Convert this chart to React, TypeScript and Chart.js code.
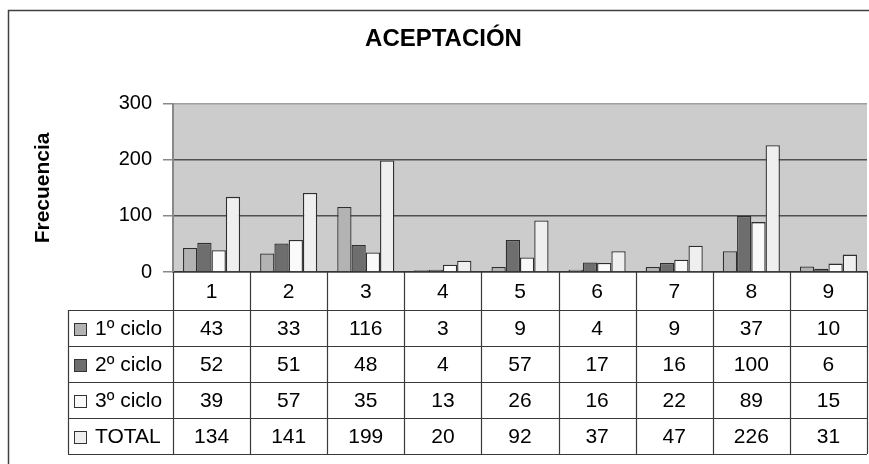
import React, { useEffect, useRef } from "react";
import { Chart, registerables } from "chart.js";

Chart.register(...registerables);

const categories = ["1", "2", "3", "4", "5", "6", "7", "8", "9"];
const seriesNames = ["1º ciclo", "2º ciclo", "3º ciclo", "TOTAL"];
const ciclo1 = [43, 33, 116, 3, 9, 4, 9, 37, 10];
const ciclo2 = [52, 51, 48, 4, 57, 17, 16, 100, 6];
const ciclo3 = [39, 57, 35, 13, 26, 16, 22, 89, 15];
const total = [134, 141, 199, 20, 92, 37, 47, 226, 31];
const yTicks = [0, 100, 200, 300];

const seriesColors = ["#b3b3b3", "#6e6e6e", "#fafafa", "#efefef"];
const FONT = "'Liberation Sans', Arial, sans-serif";

// plot background + outer frame
const backgroundPlugin = {
  id: "plotBg",
  beforeDraw(chart: any) {
    const { ctx, chartArea: a } = chart;
    ctx.save();
    ctx.fillStyle = "#cccccc";
    ctx.fillRect(a.left, a.top, a.right - a.left, a.bottom - a.top);
    ctx.restore();
  },
  afterDraw(chart: any) {
    const { ctx } = chart;
    ctx.save();
    ctx.strokeStyle = "#404040";
    ctx.lineWidth = 1.5;
    ctx.beginPath();
    ctx.moveTo(8.5, chart.height);
    ctx.lineTo(8.5, 10.5);
    ctx.lineTo(chart.width, 10.5);
    ctx.stroke();
    ctx.restore();
  },
};

// data table under the x axis
const tablePlugin = {
  id: "dataTable",
  afterDraw(chart: any) {
    const { ctx, chartArea: a } = chart;
    const xs = chart.scales.x;
    const n = chart.data.labels.length;
    const colW = (a.right - a.left) / n;
    const headerH = 38;
    const rowH = 36;
    const tableLeft = 68;
    const rowsTop = a.bottom + headerH;
    const tableBottom = rowsTop + rowH * chart.data.datasets.length;

    ctx.save();
    ctx.strokeStyle = "#3a3a3a";
    ctx.lineWidth = 1.2;

    // vertical lines
    for (let i = 0; i <= n; i++) {
      const x = Math.round(a.left + i * colW) + 0.5;
      ctx.beginPath();
      ctx.moveTo(x, a.bottom);
      ctx.lineTo(x, tableBottom);
      ctx.stroke();
    }
    ctx.beginPath();
    ctx.moveTo(tableLeft + 0.5, rowsTop);
    ctx.lineTo(tableLeft + 0.5, tableBottom);
    ctx.stroke();

    // horizontal lines
    chart.data.datasets.forEach((_: any, r: number) => {
      const y = Math.round(rowsTop + r * rowH) + 0.5;
      ctx.beginPath();
      ctx.moveTo(tableLeft, y);
      ctx.lineTo(a.right, y);
      ctx.stroke();
    });
    ctx.beginPath();
    ctx.moveTo(tableLeft, tableBottom + 0.5);
    ctx.lineTo(a.right, tableBottom + 0.5);
    ctx.stroke();

    ctx.fillStyle = "#000";
    ctx.font = `21px ${FONT}`;
    ctx.textBaseline = "middle";
    ctx.textAlign = "center";

    // category header
    chart.data.labels.forEach((lab: string, i: number) => {
      ctx.fillText(lab, xs.getPixelForValue(i), a.bottom + headerH / 2 + 1);
    });

    // series rows
    chart.data.datasets.forEach((ds: any, r: number) => {
      const cy = rowsTop + r * rowH + rowH / 2 + 1;
      ctx.fillStyle = ds.backgroundColor;
      ctx.fillRect(74, cy - 6, 12, 12);
      ctx.strokeStyle = "#333";
      ctx.lineWidth = 1;
      ctx.strokeRect(74.5, cy - 5.5, 12, 12);
      ctx.fillStyle = "#000";
      ctx.textAlign = "left";
      ctx.fillText(ds.label, 95, cy);
      ctx.textAlign = "center";
      ds.data.forEach((v: number, i: number) => {
        ctx.fillText(String(v), xs.getPixelForValue(i), cy);
      });
    });
    ctx.restore();
  },
};

const App = () => {
  const chartRef = useRef<HTMLCanvasElement>(null);

  useEffect(() => {
    document.body.style.margin = "0";
    if (!chartRef.current) return;
    const ctx = chartRef.current.getContext("2d");
    if (!ctx) return;

    const values = [ciclo1, ciclo2, ciclo3, total];

    const chart = new Chart(ctx, {
      type: "bar",
      data: {
        labels: categories,
        datasets: values.map((d, i) => ({
          label: seriesNames[i],
          data: d,
          backgroundColor: seriesColors[i],
          borderColor: "#2e2e2e",
          borderWidth: 1.3,
          borderSkipped: "bottom",
          categoryPercentage: 0.74,
          barPercentage: 1.0,
        })),
      },
      options: {
        responsive: false,
        animation: false,
        layout: { padding: { left: 20, right: 2, top: 12, bottom: 184 } },
        plugins: {
          legend: { display: false },
          tooltip: { enabled: false },
          title: {
            display: true,
            text: "ACEPTACIÓN",
            color: "#000",
            font: { family: FONT, size: 24, weight: "bold" },
            padding: { top: 13, bottom: 50 },
          },
        },
        scales: {
          x: {
            type: "category",
            ticks: { display: false },
            grid: { display: false },
            border: { display: true, color: "#333", width: 1.5 },
          },
          y: {
            min: 0,
            max: 300,
            afterBuildTicks: (scale: any) => {
              scale.ticks = yTicks.map((v) => ({ value: v }));
            },
            afterFit: (scale: any) => {
              scale.width = 153;
            },
            ticks: {
              color: "#000",
              padding: 11,
              font: { family: FONT, size: 20 },
            },
            grid: {
              color: (c: any) => (c.tick && c.tick.value === 300 ? "#a0a0a0" : "#505050"),
              lineWidth: 1.5,
              tickLength: 10,
              tickColor: "#888",
            },
            border: { display: true, color: "#888", width: 2 },
            title: {
              display: true,
              text: "Frecuencia",
              color: "#000",
              font: { family: FONT, size: 21, weight: "bold" },
              padding: { top: 11, bottom: 0 },
            },
          },
        },
      },
      plugins: [backgroundPlugin, tablePlugin],
    });

    return () => {
      chart.destroy();
    };
  }, []);

  return (
    <div style={{ width: 869, height: 464 }}>
      <canvas ref={chartRef} width={869} height={464} style={{ display: "block" }}></canvas>
    </div>
  );
};

export default App;
